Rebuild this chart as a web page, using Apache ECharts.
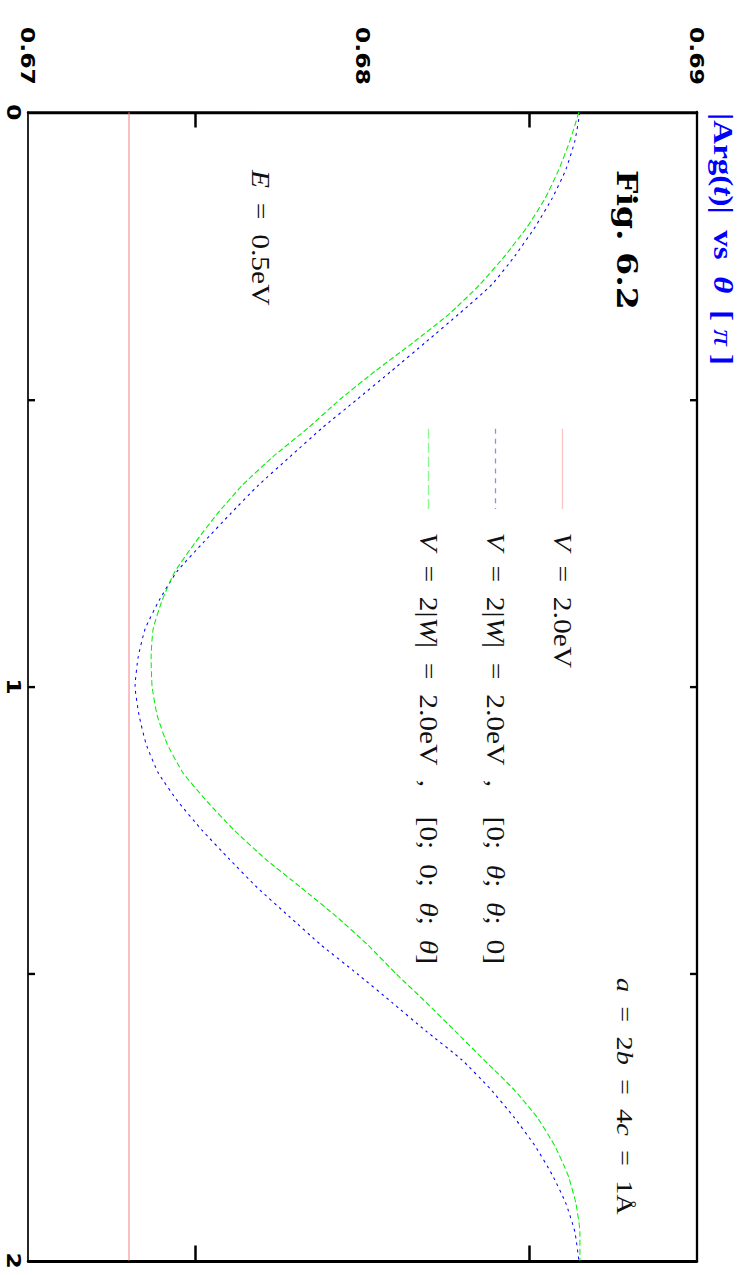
<!DOCTYPE html>
<html><head><meta charset="utf-8">
<script src="https://cdn.jsdelivr.net/npm/echarts@6/dist/echarts.min.js"></script>
<style>
html,body{margin:0;padding:0;overflow:hidden;background:#fff;width:743px;height:1275px}
#main{position:absolute;left:0;top:0;width:1080px;height:743px;transform-origin:0 0;
transform:translate(743px,0) rotate(90deg) scale(1.1805556,1);}
</style></head><body><div id="main"></div>
<script>
// theta in units of pi
const theta = [0,0.05,0.1,0.15,0.2,0.25,0.3,0.35,0.4,0.45,0.5,0.55,0.6,0.65,0.7,0.75,0.8,0.85,0.9,0.95,
  1,1.05,1.1,1.15,1.2,1.25,1.3,1.35,1.4,1.45,1.5,1.55,1.6,1.65,1.7,1.75,1.8,1.85,1.9,1.95,2];
// |Arg(t)| for V = 2|W| = 2.0eV, [0;θ;θ;0]
const argBlue = [0.68650,0.68635,0.68608,0.68567,0.68516,0.68456,0.68387,0.68291,0.68190,0.68088,
  0.67984,0.67879,0.67783,0.67688,0.67604,0.67523,0.67445,0.67392,0.67350,0.67329,
  0.67320,0.67332,0.67353,0.67389,0.67448,0.67520,0.67601,0.67685,0.67780,0.67876,
  0.67984,0.68088,0.68190,0.68297,0.68381,0.68453,0.68516,0.68567,0.68608,0.68635,0.68647];
// |Arg(t)| for V = 2|W| = 2.0eV, [0;0;θ;θ]
const argGreen = [0.68647,0.68620,0.68587,0.68546,0.68492,0.68426,0.68351,0.68262,0.68154,0.68040,
  0.67933,0.67837,0.67732,0.67640,0.67565,0.67499,0.67439,0.67401,0.67374,0.67368,
  0.67371,0.67386,0.67416,0.67463,0.67535,0.67616,0.67709,0.67816,0.67921,0.68016,
  0.68100,0.68190,0.68277,0.68363,0.68450,0.68522,0.68575,0.68614,0.68638,0.68650,0.68650];
// |Arg(t)| for V = 2.0eV (constant)
const redTheta = [0, 2];
const argRed = [0.67302, 0.67302];

const thetaLabels = [0, 1, 2];
const thetaTicks = [0.5, 1, 1.5];
const argLabels = [0.67, 0.68, 0.69];
const argTicks = [0.675, 0.685];

const seriesNames = ['V = 2.0eV', 'V = 2|W| = 2.0eV ,  [0; θ; θ; 0]', 'V = 2|W| = 2.0eV ,  [0; 0; θ; θ]'];
const legendRich = {
  'V = 2.0eV': '{i|V}{r|  =  2.0eV}',
  'V = 2|W| = 2.0eV ,  [0; θ; θ; 0]': '{i|V}{r|  =  2|}{i|W}{r||  =  2.0eV  ,    [0;  }{i|θ}{r|;  }{i|θ}{r|;  0]}',
  'V = 2|W| = 2.0eV ,  [0; 0; θ; θ]': '{i|V}{r|  =  2|}{i|W}{r||  =  2.0eV  ,    [0;  0;  }{i|θ}{r|;  }{i|θ}{r|]}'
};
const titleText = '|Arg(t)| vs θ [π]';
const figText = 'Fig. 6.2';

const S = 1275 / 1080;
const X = v => v / S;
const SERIF = '"Liberation Serif", "DejaVu Serif", serif';
const richStyles = {
  r: {fontFamily: SERIF, fontSize: 25, color: '#111', lineHeight: 24},
  i: {fontFamily: SERIF, fontSize: 25, fontStyle: 'italic', color: '#111', lineHeight: 24}
};
const richSmall = {
  r: {fontFamily: SERIF, fontSize: 24, color: '#111', lineHeight: 24},
  i: {fontFamily: SERIF, fontSize: 24, fontStyle: 'italic', color: '#111', lineHeight: 24}
};

const chart = echarts.init(document.getElementById('main'), null, {renderer: 'svg', width: 1080, height: 743});

const pairs = (xs, ys) => xs.map((t, k) => [t, ys[k]]);
const colors = ['#f27f7f', '#0000ff', '#00ee00'];
const dashes = ['solid', [2.5, 3.5], [5, 2.5]];
const legendDash = ['solid', [4.2, 4.2], [8.5, 3.4]];
const legendRowsY = [180, 247, 314];

const tickFont = {color: '#000', fontFamily: '"DejaVu Sans", sans-serif', fontWeight: 'bold', fontSize: 20};

chart.setOption({
  animation: false,
  backgroundColor: '#fff',
  grid: {left: 95, right: 12, top: 46, bottom: 28, containLabel: false},
  xAxis: [
    {type: 'value', min: 0, max: 2, position: 'bottom', splitLine: {show: false},
      axisLine: {show: true, onZero: false, lineStyle: {color: '#000', width: 1.7}},
      axisTick: {show: true, inside: true, length: 7, customValues: thetaTicks, lineStyle: {color: '#000', width: 2}},
      axisLabel: Object.assign({show: true, customValues: thetaLabels, margin: 4}, tickFont)},
    {type: 'value', min: 0, max: 2, position: 'top', splitLine: {show: false},
      axisLine: {show: true, onZero: false, lineStyle: {color: '#000', width: 2.3}},
      axisTick: {show: true, inside: true, length: 7, customValues: thetaTicks, lineStyle: {color: '#000', width: 2}},
      axisLabel: {show: false}}
  ],
  yAxis: [
    {type: 'value', min: 0.67, max: 0.69, position: 'left', splitLine: {show: false},
      axisLine: {show: true, onZero: false, lineStyle: {color: '#000', width: 2.5}},
      axisTick: {show: true, inside: true, length: 13, customValues: argTicks, lineStyle: {color: '#000', width: 2.5}},
      axisLabel: Object.assign({show: true, customValues: argLabels, margin: 23, align: 'right'}, tickFont)},
    {type: 'value', min: 0.67, max: 0.69, position: 'right', splitLine: {show: false},
      axisLine: {show: true, onZero: false, lineStyle: {color: '#000', width: 2.5}},
      axisTick: {show: true, inside: true, length: 13, customValues: argTicks, lineStyle: {color: '#000', width: 2.5}},
      axisLabel: {show: false}}
  ],
  legend: seriesNames.map((n, k) => ({
    data: [{name: n, lineStyle: {type: legendDash[k], opacity: 0.45, width: 1.3}, itemStyle: {opacity: 0}}],
    orient: 'vertical', left: X(428), top: legendRowsY[k] - 12, padding: 0,
    itemWidth: 68, itemHeight: 14, selectedMode: false,
    formatter: name => legendRich[name],
    textStyle: {fontFamily: SERIF, fontSize: 25, lineHeight: 24, color: '#111', padding: [0, 0, 0, 15], rich: richStyles}
  })),
  series: [
    {name: seriesNames[0], type: 'line', data: pairs(redTheta, argRed), showSymbol: false, symbol: 'none', silent: true,
      lineStyle: {color: colors[0], width: 1, type: dashes[0]}, itemStyle: {color: colors[0]}},
    {name: seriesNames[1], type: 'line', data: pairs(theta, argBlue), showSymbol: false, symbol: 'none', silent: true, smooth: 0.15,
      lineStyle: {color: colors[1], width: 1, type: dashes[1]}, itemStyle: {color: colors[1]}},
    {name: seriesNames[2], type: 'line', data: pairs(theta, argGreen), showSymbol: false, symbol: 'none', silent: true, smooth: 0.15,
      lineStyle: {color: colors[2], width: 1, type: dashes[2]}, itemStyle: {color: colors[2]}}
  ],
  graphic: [
    {type: 'text', x: X(113), y: 20, silent: true, style: {
      text: '{b||Arg(}{bi|t}{b|)|  vs  }{bi|θ}{b|  [ }{i|π}{b| ]}', verticalAlign: 'middle', fill: '#0000ff',
      rich: {
        b: {fontFamily: SERIF, fontSize: 28, fontWeight: 'bold', color: '#0000ff'},
        bi: {fontFamily: SERIF, fontSize: 28, fontWeight: 'bold', fontStyle: 'italic', color: '#0000ff'},
        i: {fontFamily: SERIF, fontSize: 28, fontStyle: 'italic', color: '#0000ff'}
      }}},
    {type: 'text', x: X(170), y: 116, silent: true, style: {
      text: figText, verticalAlign: 'middle', fill: '#000',
      fontFamily: '"DejaVu Serif", serif', fontWeight: 'bold', fontSize: 28}},
    {type: 'text', x: X(170), y: 483, silent: true, style: {
      text: '{i|E}{r|  =  0.5eV}', verticalAlign: 'middle', fill: '#111', rich: richStyles}},
    {type: 'text', x: X(978), y: 118, silent: true, style: {
      text: '{i|a}{r|  =  2}{i|b}{r|  =  4}{i|c}{r|  =  1Å}', verticalAlign: 'middle', fill: '#111', rich: richSmall}}
  ]
});
</script></body></html>
